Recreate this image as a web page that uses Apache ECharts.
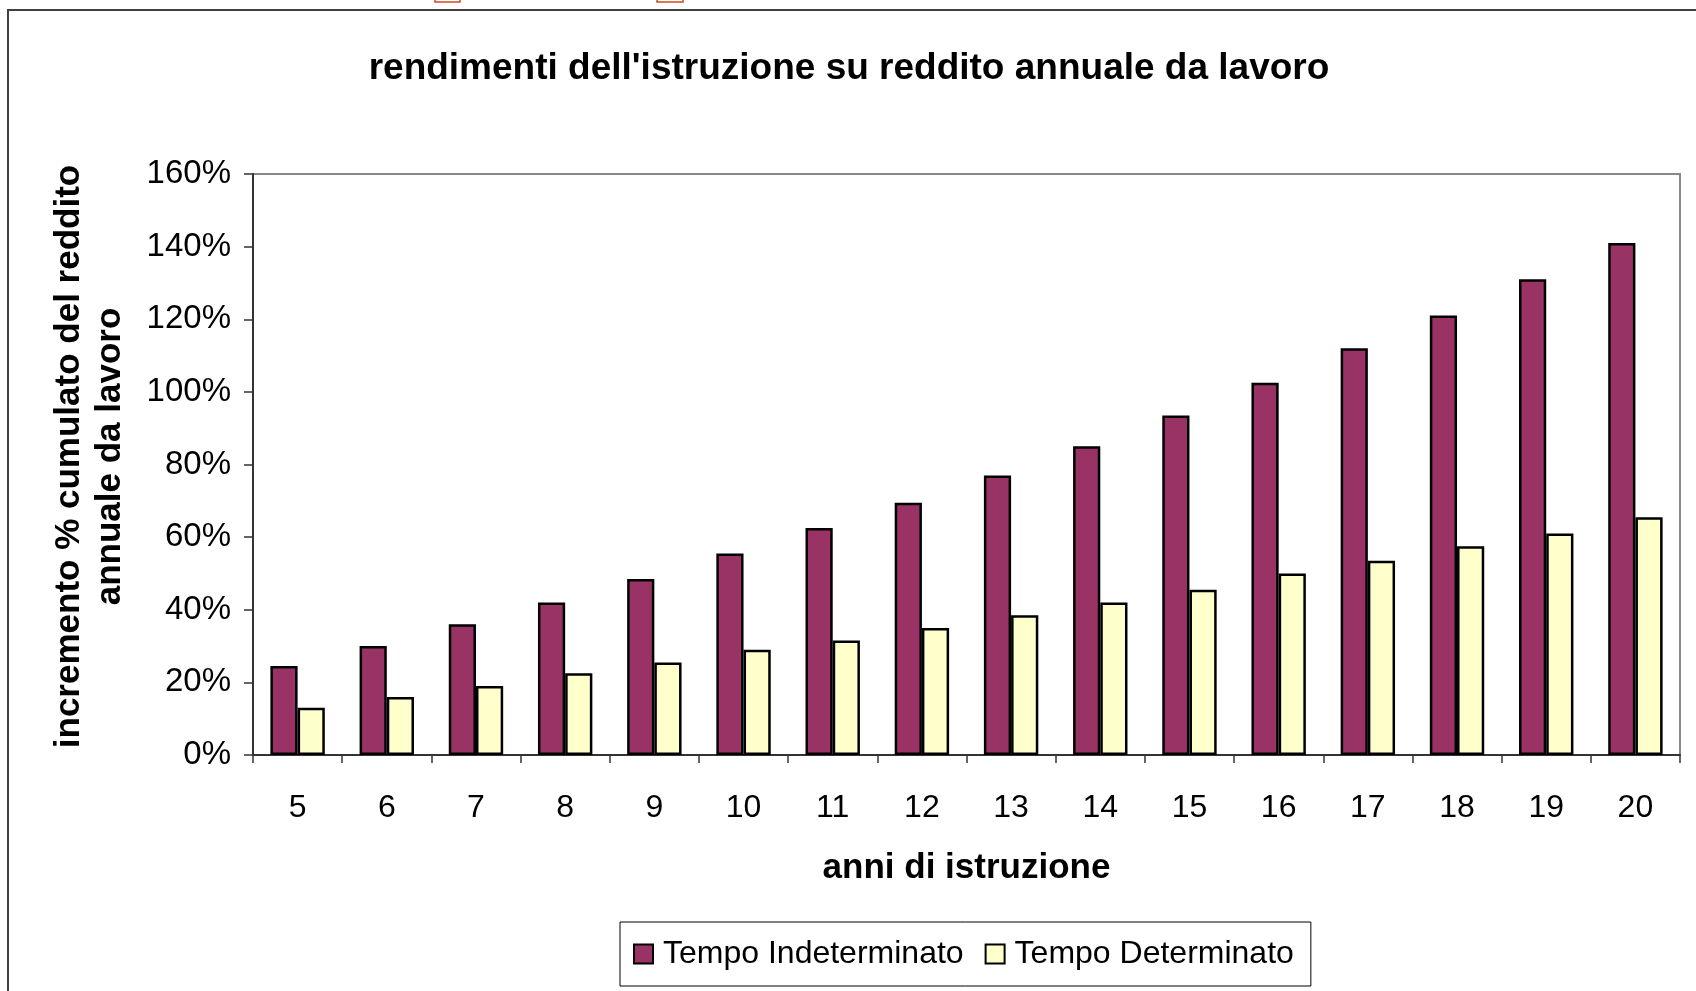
<!DOCTYPE html>
<html>
<head>
<meta charset="utf-8">
<script src="https://cdn.jsdelivr.net/npm/echarts@6/dist/echarts.min.js"></script>
<style>
  html, body { margin: 0; padding: 0; background: #fff; }
  #chart { width: 1696px; height: 991px; }
</style>
</head>
<body>
<div id="chart"></div>
<script>
// anni di istruzione
const years = ['5', '6', '7', '8', '9', '10', '11', '12', '13', '14', '15', '16', '17', '18', '19', '20'];
// incremento % cumulato
const indeterminato = [24.5, 30, 36, 42, 48.5, 55.5, 62.5, 69.5, 77, 85, 93.5, 102.5, 112, 121, 131, 141];
const determinato = [13, 16, 19, 22.5, 25.5, 29, 31.5, 35, 38.5, 42, 45.5, 50, 53.5, 57.5, 61, 65.5];

const font = 'Liberation Sans, Arial, sans-serif';

const chart = echarts.init(document.getElementById('chart'));
chart.setOption({
  animation: false,
  backgroundColor: '#fff',
  textStyle: { fontFamily: font, color: '#000' },
  title: {
    text: "rendimenti dell'istruzione su reddito annuale da lavoro",
    left: 844,
    textAlign: 'center',
    top: 45,
    textStyle: { fontFamily: font, fontSize: 37, fontWeight: 'bold', color: '#000' }
  },
  // cornice + segni arancioni in alto
  graphic: [
    {
      type: 'polyline',
      shape: { points: [[8, 995], [8, 10], [1700, 10]] },
      style: { stroke: '#404040', lineWidth: 2, fill: null }
    },
    { type: 'rect', shape: { x: 435, y: -2, width: 25, height: 4 }, style: { fill: '#fff', stroke: '#d04a22', lineWidth: 1.5 } },
    { type: 'rect', shape: { x: 657, y: -2, width: 26, height: 4 }, style: { fill: '#fff', stroke: '#d04a22', lineWidth: 1.5 } }
  ],
  legend: {
    left: 620,
    top: 922,
    padding: [16, 17, 16, 13],
    itemGap: 21,
    itemWidth: 19,
    itemHeight: 19,
    icon: 'rect',
    borderColor: '#000',
    borderWidth: 1,
    textStyle: { fontFamily: font, fontSize: 32, color: '#000', padding: [0, 0, 0, 5] },
    data: ['Tempo Indeterminato', 'Tempo Determinato']
  },
  grid: {
    left: 253, right: 16, top: 174, bottom: 236,
    show: true, borderColor: '#888', borderWidth: 2
  },
  xAxis: {
    type: 'category',
    data: years,
    name: 'anni di istruzione',
    nameLocation: 'middle',
    nameGap: 96,
    nameTextStyle: { fontFamily: font, fontSize: 35, fontWeight: 'bold', color: '#000' },
    axisLine: { lineStyle: { color: '#333', width: 2 } },
    axisTick: { show: true, length: 8, lineStyle: { color: '#333', width: 1.5 } },
    axisLabel: { fontFamily: font, fontSize: 32, color: '#000', margin: 37 }
  },
  yAxis: {
    type: 'value',
    min: 0, max: 160, interval: 20,
    name: 'incremento % cumulato del reddito\nannuale da lavoro',
    nameLocation: 'middle',
    nameRotate: 90,
    nameGap: 122,
    nameTextStyle: {
      fontFamily: font, fontSize: 35, fontWeight: 'bold', color: '#000',
      lineHeight: 41, align: 'center', padding: [0, 0, 0, 16]
    },
    axisLine: { show: true, lineStyle: { color: '#333', width: 2 } },
    axisTick: { show: true, inside: false, length: 9, lineStyle: { color: '#333', width: 1.5 } },
    axisLabel: { fontFamily: font, fontSize: 33, color: '#000', margin: 22, formatter: '{value}%' },
    splitLine: { show: false }
  },
  series: [
    {
      name: 'Tempo Indeterminato',
      type: 'bar',
      data: indeterminato,
      barGap: '0%',
      barCategoryGap: '39%',
      itemStyle: { color: '#993366', borderColor: '#000', borderWidth: 2.5 }
    },
    {
      name: 'Tempo Determinato',
      type: 'bar',
      data: determinato,
      itemStyle: { color: '#FFFFCC', borderColor: '#000', borderWidth: 2.5 }
    }
  ]
});
</script>
</body>
</html>
